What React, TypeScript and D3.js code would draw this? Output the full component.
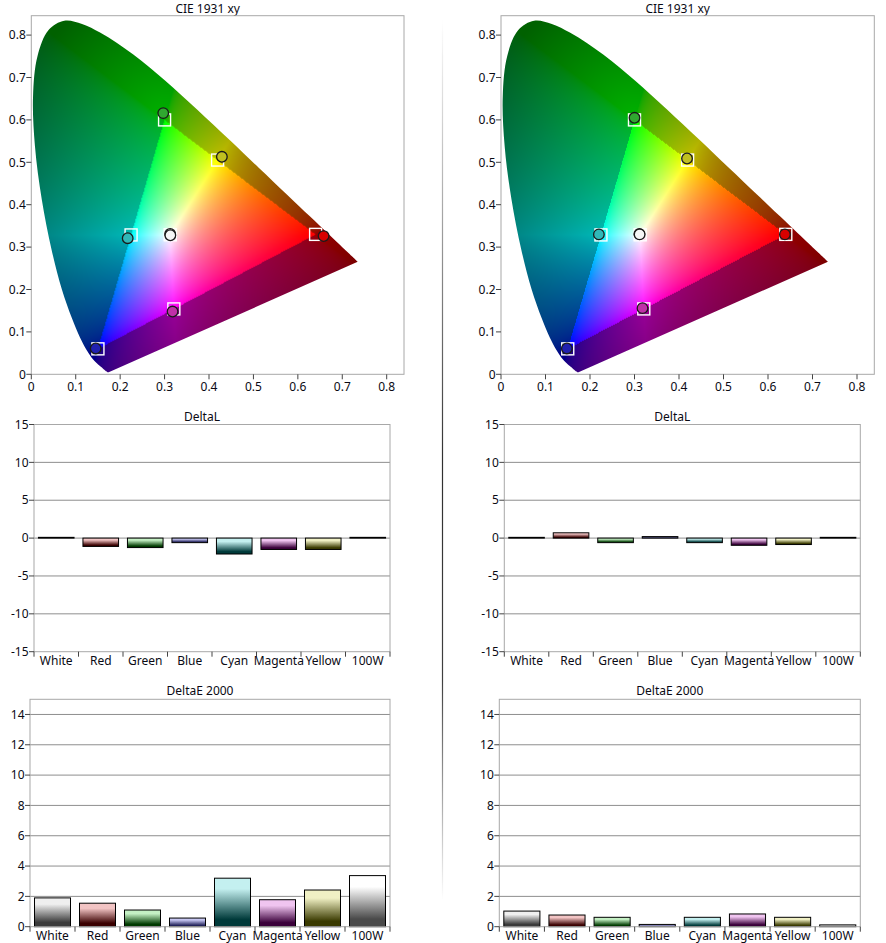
import React, { useMemo } from 'react';
import * as d3 from 'd3';

// bar chart data
const categories = ['White', 'Red', 'Green', 'Blue', 'Cyan', 'Magenta', 'Yellow', '100W'];
const barLight = ['#efefef', '#f2c4c4', '#c4f0c4', '#c6c6f2', '#c4f0f0', '#f0c4f0', '#f0f0c4', '#ffffff'];
const barDark = ['#3a3a3a', '#3a0000', '#003a00', '#22225a', '#003a3a', '#3a003a', '#3a3a00', '#4a4a4a'];

const deltaLLeft = [0.1, -1.1, -1.25, -0.6, -2.1, -1.5, -1.5, 0.1];
const deltaLRight = [0.1, 0.7, -0.6, 0.2, -0.6, -0.95, -0.85, 0.1];
const deltaELeft = [1.9, 1.55, 1.1, 0.57, 3.2, 1.78, 2.42, 3.37];
const deltaERight = [1.03, 0.77, 0.62, 0.15, 0.62, 0.84, 0.62, 0.12];

const deltaLTicks = [-15, -10, -5, 0, 5, 10, 15];
const deltaETicks = [0, 2, 4, 6, 8, 10, 12, 14];
const cieTicks = [0, 0.1, 0.2, 0.3, 0.4, 0.5, 0.6, 0.7, 0.8];

// CIE 1931 spectral locus, 380-700 nm
const locusX = [0.1741, 0.1740, 0.1738, 0.1736, 0.1733, 0.1730, 0.1726, 0.1721, 0.1714, 0.1703, 0.1689, 0.1669,
  0.1644, 0.1611, 0.1566, 0.1510, 0.1440, 0.1355, 0.1241, 0.1096, 0.0913, 0.0687, 0.0454, 0.0235, 0.0082, 0.0039,
  0.0139, 0.0389, 0.0743, 0.1142, 0.1547, 0.1929, 0.2296, 0.2658, 0.3016, 0.3373, 0.3731, 0.4087, 0.4441, 0.4788,
  0.5125, 0.5448, 0.5752, 0.6029, 0.6270, 0.6482, 0.6658, 0.6801, 0.6915, 0.7006, 0.7079, 0.7140, 0.7190, 0.7230,
  0.7260, 0.7283, 0.7300, 0.7311, 0.7320, 0.7334, 0.7344, 0.7347];
const locusY = [0.0050, 0.0050, 0.0049, 0.0049, 0.0048, 0.0048, 0.0048, 0.0048, 0.0051, 0.0058, 0.0069, 0.0086,
  0.0109, 0.0138, 0.0177, 0.0227, 0.0297, 0.0399, 0.0578, 0.0868, 0.1327, 0.2007, 0.2950, 0.4127, 0.5384, 0.6548,
  0.7502, 0.8120, 0.8338, 0.8262, 0.8059, 0.7816, 0.7543, 0.7243, 0.6923, 0.6589, 0.6245, 0.5896, 0.5547, 0.5202,
  0.4866, 0.4544, 0.4242, 0.3965, 0.3725, 0.3514, 0.3340, 0.3197, 0.3083, 0.2993, 0.2920, 0.2859, 0.2809, 0.2770,
  0.2740, 0.2717, 0.2700, 0.2689, 0.2680, 0.2666, 0.2656, 0.2653];

// sRGB / Rec.709 gamut primaries R, G, B
const gamutX = [0.64, 0.30, 0.15];
const gamutY = [0.33, 0.60, 0.06];

// targets: White, Red, Green, Blue, Cyan, Magenta, Yellow
const targetX = [0.3127, 0.64, 0.30, 0.15, 0.2246, 0.3209, 0.4193];
const targetY = [0.329, 0.33, 0.60, 0.06, 0.3287, 0.1542, 0.5053];

// measured: White, 100W, Red, Green, Blue, Cyan, Magenta, Yellow
const measLeftX = [0.3125, 0.313, 0.658, 0.297, 0.145, 0.217, 0.318, 0.429];
const measLeftY = [0.331, 0.328, 0.326, 0.616, 0.061, 0.321, 0.148, 0.513];
const measRightX = [0.311, 0.3115, 0.638, 0.300, 0.148, 0.220, 0.318, 0.418];
const measRightY = [0.331, 0.330, 0.330, 0.605, 0.061, 0.330, 0.156, 0.509];
const pointFill = ['#f6f6f6', '#f6f6f6', '#d80000', '#30a830', '#2020b0', '#30b8b8', '#c030a8', '#c0c020'];

const FONT = '"Noto Sans", "DejaVu Sans", sans-serif';
const TEXT = '#0a0a14';

const enc = (v: number) => (v <= 0.0031308 ? 12.92 * v : 1.055 * Math.pow(v, 1 / 2.4) - 0.055);

function distSeg(px: number, py: number, ax: number, ay: number, bx: number, by: number) {
  const dx = bx - ax, dy = by - ay;
  let t = ((px - ax) * dx + (py - ay) * dy) / (dx * dx + dy * dy);
  t = Math.max(0, Math.min(1, t));
  return Math.hypot(px - ax - t * dx, py - ay - t * dy);
}

function chroma(x: number, yy: number): [number, number, number] {
  const y = Math.max(yy, 0.002);
  const X = x / y, Z = (1 - x - y) / y;
  let r = 3.2406 * X - 1.5372 - 0.4986 * Z;
  let g = -0.9689 * X + 1.8758 + 0.0415 * Z;
  let b = 0.0557 * X - 0.204 + 1.057 * Z;
  const inside = r >= 0 && g >= 0 && b >= 0;
  r = Math.max(r, 0); g = Math.max(g, 0); b = Math.max(b, 0);
  const m = Math.max(r, g, b, 1e-6);
  r /= m; g /= m; b /= m;
  let f = 1;
  if (inside) {
    // a little more saturation inside the gamut
    r = Math.pow(r, 1.6); g = Math.pow(g, 1.6); b = Math.pow(b, 1.6);
  } else {
    let d = Infinity;
    for (let k = 0; k < 3; k++) {
      d = Math.min(d, distSeg(x, y, gamutX[k], gamutY[k], gamutX[(k + 1) % 3], gamutY[(k + 1) % 3]));
    }
    const lum = 0.2126 * r + 0.7152 * g + 0.0722 * b;
    f = Math.max(0.38, Math.min(0.7, 0.7 - d)) * (0.75 + 0.35 * lum);
  }
  return [enc(r) * f * 255, enc(g) * f * 255, enc(b) * f * 255];
}

function renderGamut(xs: d3.ScaleLinear<number, number>, ys: d3.ScaleLinear<number, number>,
  left: number, top: number, w: number, h: number): string {
  const c = document.createElement('canvas');
  c.width = w; c.height = h;
  const ctx = c.getContext('2d');
  if (!ctx) return '';
  const img = ctx.createImageData(w, h);
  for (let j = 0; j < h; j++) {
    const cy = ys.invert(top + j + 0.5);
    for (let i = 0; i < w; i++) {
      const cx = xs.invert(left + i + 0.5);
      const [r, g, b] = chroma(cx, cy);
      const o = (j * w + i) * 4;
      img.data[o] = r; img.data[o + 1] = g; img.data[o + 2] = b; img.data[o + 3] = 255;
    }
  }
  ctx.putImageData(img, 0, 0);
  return c.toDataURL();
}

interface CieProps {
  id: string;
  left: number;
  right: number;
  xEnd: number;
  measX: number[];
  measY: number[];
}

const CieChart: React.FC<CieProps> = ({ id, left, right, xEnd, measX, measY }) => {
  const top = 15.7, bottom = 374.3;
  const xs = d3.scaleLinear().domain([0, 0.8]).range([left, xEnd]);
  const ys = d3.scaleLinear().domain([0, 0.8]).range([bottom, 35.1]);
  const w = Math.round(right - left), h = Math.round(bottom - top);

  const href = useMemo(() => renderGamut(xs, ys, left, top, w, h), [left, xEnd]);

  const locus = d3.line<number>()
    .x(i => xs(locusX[i]))
    .y(i => ys(locusY[i]))
    .curve(d3.curveCatmullRom.alpha(0.5))(d3.range(locusX.length)) + 'Z';

  const fmt = (d: number) => (d === 0 ? '0' : d.toFixed(1));

  return (
    <g>
      <text x={(left + right) / 2 - 10} y={13} textAnchor="middle" fontSize={12} fontFamily={FONT} fill={TEXT}>CIE 1931 xy</text>
      <defs>
        <clipPath id={`locus-${id}`}><path d={locus} /></clipPath>
      </defs>
      <image href={href} x={left} y={top} width={w} height={h} clipPath={`url(#locus-${id})`} preserveAspectRatio="none" />
      <rect x={left} y={top} width={right - left} height={bottom - top} fill="none" stroke="#a8a8a8" />
      {cieTicks.map(t => (
        <g key={`y${t}`}>
          <line x1={left - 5} x2={left} y1={ys(t)} y2={ys(t)} stroke="#444" />
          <text x={left - 5.5} y={ys(t)} dy="0.35em" textAnchor="end" fontSize={12} fontFamily={FONT} fill={TEXT}>{fmt(t)}</text>
        </g>
      ))}
      {cieTicks.map(t => (
        <g key={`x${t}`}>
          <line x1={xs(t)} x2={xs(t)} y1={bottom} y2={bottom + 5} stroke="#444" />
          <text x={xs(t)} y={391} textAnchor="middle" fontSize={12} fontFamily={FONT} fill={TEXT}>{fmt(t)}</text>
        </g>
      ))}
      {targetX.map((tx, i) => (
        <rect key={`s${i}`} x={xs(tx) - 6} y={ys(targetY[i]) - 6} width={12} height={12}
          fill="none" stroke="#ffffff" strokeWidth={1.4} />
      ))}
      {measX.map((mx, i) => (
        <circle key={`c${i}`} cx={xs(mx)} cy={ys(measY[i])} r={5.3}
          fill={pointFill[i]} stroke="#1a1a1a" strokeWidth={1.3} />
      ))}
    </g>
  );
};

interface BarProps {
  left: number;
  right: number;
  top: number;
  bottom: number;
  domain: [number, number];
  ticks: number[];
  values: number[];
  title: string;
}

const BarChart: React.FC<BarProps> = ({ left, right, top, bottom, domain, ticks, values, title }) => {
  const ys = d3.scaleLinear().domain(domain).range([bottom, top]);
  const xs = d3.scaleBand<string>().domain(categories).range([left, right]).paddingInner(0.2).paddingOuter(0.1);
  const step = xs.step();
  const bounds = categories.map(c => (xs(c) ?? 0) - step * 0.1).concat([right]);

  return (
    <g>
      <text x={(left + right) / 2 - 10} y={top - 4} textAnchor="middle" fontSize={12} fontFamily={FONT} fill={TEXT}>{title}</text>
      {ticks.filter(t => t !== domain[0] && t !== domain[1]).map(t => (
        <line key={`g${t}`} x1={left} x2={right} y1={ys(t)} y2={ys(t)} stroke="#8e8e8e" />
      ))}
      {values.map((v, i) => {
        const y0 = ys(0), y1 = ys(v);
        return (
          <rect key={categories[i]} x={xs(categories[i])} width={xs.bandwidth()}
            y={Math.min(y0, y1)} height={Math.abs(y1 - y0)}
            fill={`url(#bar-${i})`} stroke="#000" strokeWidth={1} />
        );
      })}
      <rect x={left} y={top} width={right - left} height={bottom - top} fill="none" stroke="#a8a8a8" />
      {ticks.map(t => (
        <g key={`t${t}`}>
          <line x1={left - 5} x2={left} y1={ys(t)} y2={ys(t)} stroke="#444" />
          <text x={left - 5.5} y={ys(t)} dy="0.35em" textAnchor="end" fontSize={12} fontFamily={FONT} fill={TEXT}>{t}</text>
        </g>
      ))}
      {bounds.map((b, i) => (
        <line key={`b${i}`} x1={b} x2={b} y1={bottom} y2={bottom + 5} stroke="#444" />
      ))}
      {categories.map(c => (
        <text key={`l${c}`} x={(xs(c) ?? 0) + xs.bandwidth() / 2} y={bottom + 13} textAnchor="middle"
          fontSize={12} fontFamily={FONT} fill={TEXT}>{c}</text>
      ))}
    </g>
  );
};

export default function App() {
  return (
    <svg width={886} height={943} style={{ position: 'absolute', left: 0, top: 0, background: '#fff' }}>
      <defs>
        {categories.map((c, i) => (
          <linearGradient key={c} id={`bar-${i}`} x1="0" y1="0" x2="0" y2="1">
            <stop offset="0" stopColor={barLight[i]} />
            <stop offset="0.22" stopColor={barLight[i]} />
            <stop offset="0.85" stopColor={barDark[i]} />
            <stop offset="1" stopColor={barDark[i]} />
          </linearGradient>
        ))}
        <linearGradient id="sep" gradientUnits="userSpaceOnUse" x1="0" y1="20" x2="0" y2="900">
          <stop offset="0" stopColor="#ffffff" />
          <stop offset="0.1" stopColor="#d8d8d8" />
          <stop offset="0.5" stopColor="#303030" />
          <stop offset="0.75" stopColor="#404040" />
          <stop offset="1" stopColor="#ffffff" />
        </linearGradient>
      </defs>
      <line x1={442.5} x2={442.5} y1={20} y2={900} stroke="url(#sep)" strokeWidth={1.2} />

      <CieChart id="l" left={31.3} right={404} xEnd={386.7} measX={measLeftX} measY={measLeftY} />
      <CieChart id="r" left={501} right={874.3} xEnd={857} measX={measRightX} measY={measRightY} />

      <BarChart left={34} right={390} top={424.5} bottom={651.7} domain={[-15, 15]} ticks={deltaLTicks}
        values={deltaLLeft} title="DeltaL" />
      <BarChart left={504.3} right={860.3} top={424.5} bottom={651.7} domain={[-15, 15]} ticks={deltaLTicks}
        values={deltaLRight} title="DeltaL" />

      <BarChart left={30} right={390} top={699.3} bottom={926.7} domain={[0, 15]} ticks={deltaETicks}
        values={deltaELeft} title="DeltaE 2000" />
      <BarChart left={499.3} right={860.3} top={699.3} bottom={926.7} domain={[0, 15]} ticks={deltaETicks}
        values={deltaERight} title="DeltaE 2000" />
    </svg>
  );
}
